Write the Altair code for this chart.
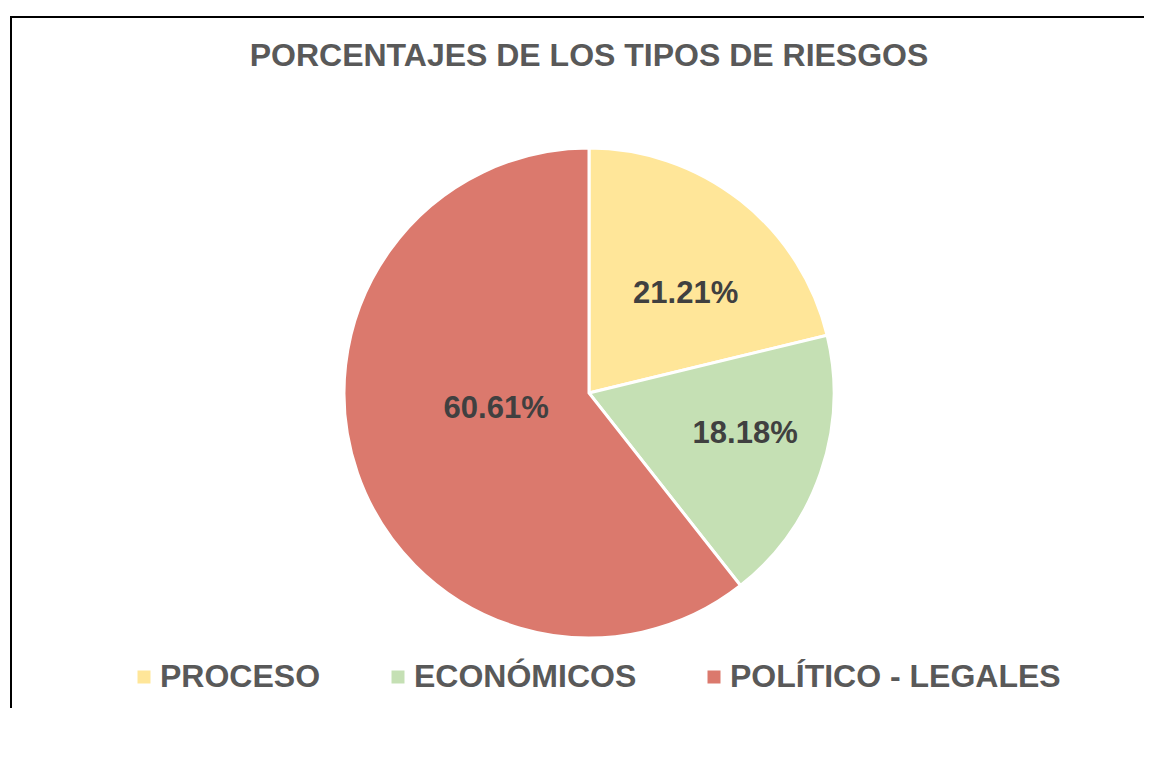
import altair as alt
import pandas as pd

# ---- data ----
categorias = ["PROCESO", "ECONÓMICOS", "POLÍTICO - LEGALES"]
porcentajes = [21.21, 18.18, 60.61]
orden = [0, 1, 2]
colores = ["#FFE699", "#C5E0B4", "#DB796D"]
titulo = "PORCENTAJES DE LOS TIPOS DE RIESGOS"

df = pd.DataFrame({"categoria": categorias, "porcentaje": porcentajes, "orden": orden})

W, H = 1110, 630
PAD_L, PAD_T = 26, 70
FONT = "Liberation Sans"

base = alt.Chart(df).transform_calculate(
    etiqueta="format(datum.porcentaje, '.2f') + '%'"
)

theta = alt.Theta("porcentaje:Q", stack=True)
order = alt.Order("orden:Q", sort="ascending")

color = alt.Color(
    "categoria:N",
    scale=alt.Scale(domain=categorias, range=colores),
    legend=alt.Legend(
        orient="none",
        legendX=94,
        legendY=583,
        direction="horizontal",
        title=None,
        symbolType="square",
        symbolSize=169,
        symbolStrokeWidth=0,
        symbolOpacity=1,
        labelFont=FONT,
        labelFontSize=32,
        labelFontWeight="bold",
        labelColor="#595959",
        labelOffset=0,
        columnPadding=61,
        labelLimit=800,
    ),
)

pie = base.mark_arc(radius=245, stroke="white", strokeWidth=3).encode(
    theta=theta, color=color, order=order
)


def etiqueta(cat, r, dx, dy):
    return base.mark_text(
        radius=r, dx=dx, dy=dy, font=FONT, fontSize=31, fontWeight="bold",
        color="#404040", baseline="middle", align="center"
    ).encode(
        theta=theta,
        order=order,
        detail="categoria:N",
        text="etiqueta:N",
        opacity=alt.condition(alt.datum.categoria == cat, alt.value(1), alt.value(0)),
    )


labels = [
    etiqueta("PROCESO", 137, 12, 9),
    etiqueta("ECONÓMICOS", 161, 4, -12),
    etiqueta("POLÍTICO - LEGALES", 93, -5, -14),
]

title_layer = alt.Chart(alt.Data(values=[{"t": titulo}])).mark_text(
    font=FONT, fontSize=32, fontWeight="bold", color="#595959",
    baseline="alphabetic", align="center"
).encode(text="t:N", x=alt.value(W / 2), y=alt.value(-12))

frame = alt.Data(values=[{"b": 1}])
border_left = alt.Chart(frame).mark_rule(color="black", strokeWidth=2).encode(
    x=alt.value(-23), y=alt.value(-62), y2=alt.value(H + 150)
)
border_top = alt.Chart(frame).mark_rule(color="black", strokeWidth=2).encode(
    y=alt.value(-61), x=alt.value(-24), x2=alt.value(W + 60)
)
edge_cover = alt.Chart(frame).mark_rule(color="white", strokeWidth=6).encode(
    x=alt.value(W), y=alt.value(-59), y2=alt.value(H + 10)
)

chart = (
    alt.layer(border_left, border_top, edge_cover, pie, *labels, title_layer)
    .properties(
        width=W,
        height=H,
        padding={"left": PAD_L, "top": PAD_T, "right": 0, "bottom": 0},
        autosize=alt.AutoSizeParams(type="none"),
        background="white",
    )
    .configure_view(strokeWidth=0, stroke=None)
)

chart.save("out.html", embed_options={"renderer": "svg", "actions": False})
